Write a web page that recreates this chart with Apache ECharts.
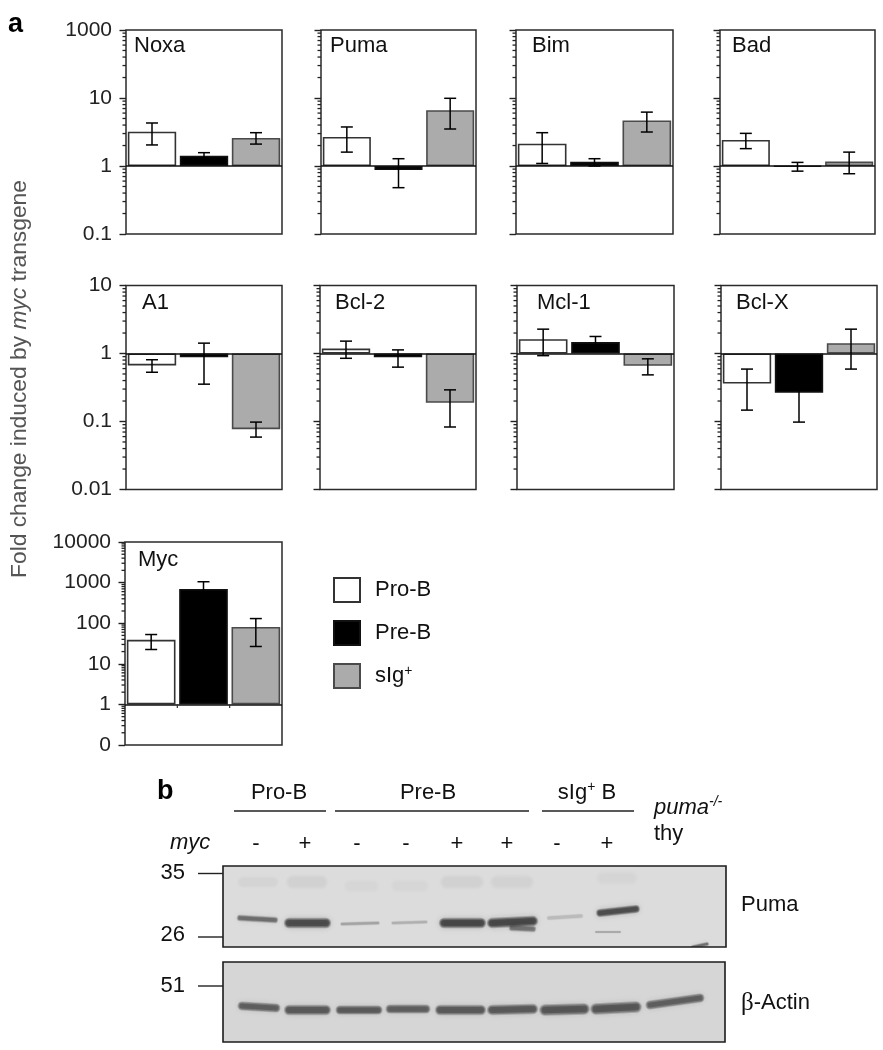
<!DOCTYPE html>
<html>
<head>
<meta charset="utf-8">
<style>html,body{margin:0;padding:0;background:#fff}#c{width:883px;height:1050px}</style>
<script src="https://cdn.jsdelivr.net/npm/echarts@6/dist/echarts.min.js"></script>
</head>
<body>
<div id="c"></div>
<script>
const panelNames = ['Noxa','Puma','Bim','Bad','A1','Bcl-2','Mcl-1','Bcl-X','Myc'];
const seriesNames = ['Pro-B','Pre-B','sIg+'];
const proB      = [3.2, 2.67, 2.13, 2.41, 0.667, 1.18, 1.62, 0.362, 39];
const proBUpper = [4.29, 3.75, 3.09, 3.02, 0.81, 1.52, 2.28, 0.59, 52.6];
const proBLower = [2.04, 1.6, 1.09, 1.8, 0.53, 0.85, 0.93, 0.147, 22.5];
const preB      = [1.42, 0.87, 1.15, 0.98, 0.88, 0.88, 1.47, 0.264, 700];
const preBUpper = [1.57, 1.28, 1.28, 1.13, 1.42, 1.13, 1.78, 0.45, 1050];
const preBLower = [1.3, 0.48, 1.0, 0.84, 0.354, 0.63, 1.2, 0.098, 400];
const sIg       = [2.58, 6.6, 4.68, 1.16, 0.077, 0.188, 0.66, 1.42, 81];
const sIgUpper  = [3.09, 9.9, 6.2, 1.6, 0.098, 0.292, 0.835, 2.28, 130];
const sIgLower  = [2.1, 3.5, 3.16, 0.77, 0.059, 0.083, 0.485, 0.59, 26.7];
const row1TickLabels = ['0.1','1','10','1000'];
const row2TickLabels = ['0.01','0.1','1','10'];
const row3TickLabels = ['0','1','10','100','1000','10000'];
const minorSteps = [2,3,4,5,6,7,8,9];
// Puma blot bands: start, end (along gel), height start, height end, density, thickness
const pumaBandStart = [17,66,119,170,221,269,289,326,377,470,373, 20,70,127,174,224,274,380];
const pumaBandEnd   = [52,103,155,203,258,310,310,358,413,484,397, 50,98,150,200,254,304,408];
const pumaBandY0    = [52,57,58,57,57,57,62,52,47,81,66, 16,16,20,20,16,16,12];
const pumaBandY1    = [54,57,57,56,57,55,63,50,43,78,66, 16,16,20,20,16,16,12];
const pumaDensity   = [.55,.78,.26,.2,.82,.82,.5,.14,.78,.55,.25, .03,.04,.018,.018,.04,.035,.02];
const pumaThick     = [5,8,3,3,8,8,5,4,6,3,2, 10,12,12,12,12,12,12];
const actinBandStart= [19,66,117,167,217,269,322,373,427];
const actinBandEnd  = [53,103,155,203,258,310,361,413,477];
const actinBandY0   = [44,48,48,47,48,48,48,47,43];
const actinBandY1   = [46,48,48,47,48,47,47,45,36];
const actinDensity  = [.62,.66,.66,.62,.66,.66,.68,.68,.62];
const actinThick    = [7,8,7,7,8,8,9,9,7];

const FONT = '"Liberation Sans", Arial, sans-serif';
const boxes = [
 [126,30,156,204,.1,100,row1TickLabels],[321,30,155,204,.1,100,null],[516,30,157,204,.1,100,null],[720,30,155,204,.1,100,null],
 [126,285.5,156,204,.01,10,row2TickLabels],[320,285.5,156,204,.01,10,null],[517,285.5,157,204,.01,10,null],[721,285.5,156,204,.01,10,null],
 [125,542,157,203,.1,10000,row3TickLabels]
];
const labelPos = [[134,46],[330,46],[532,46],[732,46],[142,303],[335,303],[537,303],[736,303],[138,560]];
const fills = [['#ffffff','#333333'],['#000000','#111111'],['#ababab','#4a4a4a']];
const grids=[],xAxes=[],yAxes=[],series=[],graphic=[];

function minorValues(min,max){
  const out=[];
  for(let d=min;d<max*.99;d*=10){minorSteps.forEach(m=>out.push(d*m));}
  return out;
}
function errorRender(params,api){
  const x=api.coord([api.value(0),1])[0];
  const hi=api.coord([api.value(0),api.value(1)])[1];
  const lo=api.coord([api.value(0),api.value(2)])[1];
  const st={stroke:'#000',lineWidth:1.5,fill:null};
  return {type:'group',children:[
    {type:'line',shape:{x1:x,y1:hi,x2:x,y2:lo},style:st},
    {type:'line',shape:{x1:x-6,y1:hi,x2:x+6,y2:hi},style:st},
    {type:'line',shape:{x1:x-6,y1:lo,x2:x+6,y2:lo},style:st}]};
}
function minorRender(params,api){
  const y=api.coord([0,api.value(1)])[1];
  const x=params.coordSys.x;
  return {type:'line',shape:{x1:x-3.5,y1:y,x2:x,y2:y},style:{stroke:'#222',lineWidth:1.3}};
}
function baseTickRender(params,api){
  const p=api.coord([api.value(0),1]);
  const half=api.size([1,0])[0]/2;
  return {type:'line',shape:{x1:p[0]+half,y1:p[1],x2:p[0]+half,y2:p[1]+3.5},style:{stroke:'#333',lineWidth:1.2}};
}
panelNames.forEach((nm,i)=>{
  const b=boxes[i];
  grids.push({left:b[0],top:b[1],width:b[2],height:b[3],show:true,backgroundColor:'#fff',borderColor:'#2a2a2a',borderWidth:1.5});
  xAxes.push({gridIndex:i,type:'category',data:seriesNames,axisLine:{show:false},axisTick:{show:false},axisLabel:{show:false},splitLine:{show:false}});
  const labels=b[6];
  yAxes.push({gridIndex:i,type:'log',logBase:10,min:b[4],max:b[5],splitNumber:labels?labels.length:Math.round(Math.log10(b[5]/b[4])),
    axisLine:{show:false},splitLine:{show:false},
    axisTick:{show:true,length:6.5,lineStyle:{color:'#222',width:1.4}},
    axisLabel:{show:!!labels,margin:14,fontSize:21,fontFamily:FONT,color:'#222',formatter:labels?((v,idx)=>labels[idx]):''}});
  [proB,preB,sIg].forEach((arr,k)=>{
    const d=[null,null,null]; d[k]=arr[i];
    const s={type:'bar',name:seriesNames[k],xAxisIndex:i,yAxisIndex:i,data:d,barWidth:'93%',barGap:'-100%',z:2,
      itemStyle:{color:fills[k][0],borderColor:fills[k][1],borderWidth:1.6}};
    if(k===0){s.markLine={silent:true,symbol:'none',animation:false,label:{show:false},lineStyle:{color:'#111',width:1.5,type:'solid'},data:[{yAxis:1}],z:4};}
    series.push(s);
  });
  series.push({type:'custom',name:nm+' error',xAxisIndex:i,yAxisIndex:i,z:5,renderItem:errorRender,encode:{x:0,y:[1,2]},
    data:[[0,proBUpper[i],proBLower[i]],[1,preBUpper[i],preBLower[i]],[2,sIgUpper[i],sIgLower[i]]]});
  series.push({type:'custom',name:nm+' minor',xAxisIndex:i,yAxisIndex:i,z:1,renderItem:minorRender,clip:false,encode:{x:0,y:1},
    data:minorValues(b[4],b[5]).map(v=>[0,v])});
  if(nm==='Myc'){
    series.push({type:'custom',name:'Myc base ticks',xAxisIndex:i,yAxisIndex:i,z:6,renderItem:baseTickRender,encode:{x:0},data:[[0],[1]]});
  }
  graphic.push({type:'text',x:labelPos[i][0],y:labelPos[i][1],z:20,style:{text:nm,fontSize:22,fontFamily:FONT,fill:'#111',verticalAlign:'middle'}});
});

// western blots: each band is three soft strokes, so it has a blurred edge
function bandRender(params,api){
  const a=api.coord([api.value(0),api.value(2)]);
  const c=api.coord([api.value(1),api.value(3)]);
  const d=api.value(4), t=api.value(5);
  const layer=(w,alpha,blur)=>({type:'line',shape:{x1:a[0],y1:a[1],x2:c[0],y2:c[1]},
    style:{stroke:'rgba(40,40,40,'+alpha+')',lineWidth:w,lineCap:'round',shadowColor:'rgba(40,40,40,'+alpha+')',shadowBlur:blur}});
  return {type:'group',children:[layer(t*1.3,d*.3,8),layer(t*1.05,d*.45,5),layer(t*.75,d*.55,3)]};
}
function addBlot(idx,left,top,w,h,bg,st,en,y0,y1,den,th,name){
  grids.push({left:left,top:top,width:w,height:h,show:true,backgroundColor:bg,borderColor:'#1c1c1c',borderWidth:1.6});
  xAxes.push({gridIndex:idx,type:'value',min:0,max:w,show:false});
  yAxes.push({gridIndex:idx,type:'value',min:0,max:h,inverse:true,show:false});
  series.push({type:'custom',name:name,xAxisIndex:idx,yAxisIndex:idx,clip:true,z:3,renderItem:bandRender,encode:{x:[0,1],y:[2,3]},
    data:st.map((s,i)=>[s,en[i],y0[i],y1[i],den[i],th[i]])});
}
addBlot(9,223,866,503,81,'#dcdcdc',pumaBandStart,pumaBandEnd,pumaBandY0,pumaBandY1,pumaDensity,pumaThick,'Puma blot');
addBlot(10,223,962,502,80,'#d6d6d6',actinBandStart,actinBandEnd,actinBandY0,actinBandY1,actinDensity,actinThick,'Actin blot');

function txt(x,y,text,o){
  graphic.push(Object.assign({type:'text',x:x,y:y,z:20,style:Object.assign({text:text,fontSize:22,fontFamily:FONT,fill:'#111',verticalAlign:'middle'},o||{})}));
}
function rule(x1,y,x2,w){
  graphic.push({type:'line',z:20,shape:{x1:x1,y1:y,x2:x2,y2:y},style:{stroke:'#222',lineWidth:w||1.4}});
}
txt(8,25,'a',{fontSize:27,fontWeight:'bold',fill:'#000'});
txt(157,792,'b',{fontSize:27,fontWeight:'bold',fill:'#000'});
graphic.push({type:'text',x:20,y:379,rotation:Math.PI/2,z:20,originX:0,originY:0,style:{
  text:'{a|Fold change induced by }{i|myc}{a| transgene}',align:'center',verticalAlign:'middle',fontFamily:FONT,
  rich:{a:{fontSize:22.8,fontFamily:FONT,fill:'#555'},i:{fontSize:22.8,fontFamily:FONT,fontStyle:'italic',fill:'#555'}}}});
txt(279,793,'Pro-B',{align:'center'});
txt(428,793,'Pre-B',{align:'center'});
txt(587,793,'{a|sIg}{s|+}{a| B}',{align:'center',rich:{a:{fontSize:22,fontFamily:FONT,fill:'#111'},s:{fontSize:14,fontFamily:FONT,fill:'#111',verticalAlign:'top',lineHeight:26}}});
rule(234,811,326);rule(335,811,529);rule(542,811,634);
txt(654,808,'{i|puma}{s|-/-}',{rich:{i:{fontSize:22,fontFamily:FONT,fontStyle:'italic',fill:'#111'},s:{fontSize:14,fontFamily:FONT,fontStyle:'italic',fill:'#111',verticalAlign:'top',lineHeight:26}}});
txt(654,834,'thy');
txt(170,843,'myc',{fontStyle:'italic'});
['-','+','-','-','+','+','-','+'].forEach((s,i)=>{
  txt([256,305,357,406,457,507,557,607][i],844,s,{align:'center'});
});
txt(185,873,'35',{align:'right'});rule(198,873.5,223);
txt(185,935,'26',{align:'right'});rule(198,937,223);
txt(185,986,'51',{align:'right'});rule(198,986,223);
txt(741,905,'Puma');
txt(741,1003,'{b|\u03b2}{a|-Actin}',{rich:{a:{fontSize:22,fontFamily:FONT,fill:'#111'},b:{fontSize:25,fontFamily:'"Liberation Serif",serif',fill:'#111'}}});

const chart=echarts.init(document.getElementById('c'),null,{renderer:'canvas'});
chart.setOption({
  animation:false,backgroundColor:'#fff',
  textStyle:{fontFamily:FONT},
  tooltip:{show:false},
  legend:{data:seriesNames,orient:'vertical',left:333,top:577,padding:0,itemWidth:26,itemHeight:24,itemGap:17,icon:'rect',selectedMode:false,
    textStyle:{fontSize:22,lineHeight:24,fontFamily:FONT,color:'#111',padding:[0,0,0,10],rich:{s:{fontSize:14,fontFamily:FONT,verticalAlign:'top',lineHeight:20,color:'#111'},a:{fontSize:22,fontFamily:FONT,color:'#111'}}},
    formatter:n=>n==='sIg+'?'{a|sIg}{s|+}':n},
  grid:grids,xAxis:xAxes,yAxis:yAxes,series:series,graphic:graphic
});
</script>
</body>
</html>
